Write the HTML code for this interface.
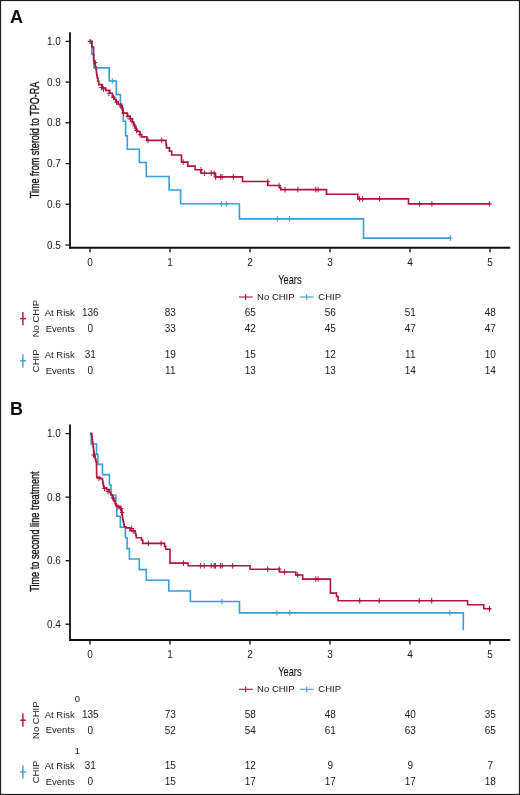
<!DOCTYPE html>
<html><head><meta charset="utf-8"><style>
html,body{margin:0;padding:0;background:#fff;}
svg{display:block;font-family:"Liberation Sans", sans-serif;}
</style></head><body>
<svg width="520" height="795" viewBox="0 0 520 795">
<defs><filter id="soft" x="0" y="0" width="520" height="795" filterUnits="userSpaceOnUse"><feGaussianBlur stdDeviation="0.32"/></filter></defs>
<rect width="520" height="795" fill="#fff"/>
<g filter="url(#soft)">
<text x="10" y="22.8" font-size="18" font-weight="bold" fill="#111">A</text>
<line x1="70" y1="32.2" x2="70" y2="248.7" stroke="#111" stroke-width="1.8"/>
<line x1="69.1" y1="247.7" x2="510.2" y2="247.7" stroke="#111" stroke-width="2"/>
<line x1="65.5" y1="41.4" x2="70" y2="41.4" stroke="#111" stroke-width="1.3"/>
<text x="60.9" y="45.0" font-size="10" text-anchor="end" fill="#1a1a1a">1.0</text>
<line x1="65.5" y1="82.1" x2="70" y2="82.1" stroke="#111" stroke-width="1.3"/>
<text x="60.9" y="85.7" font-size="10" text-anchor="end" fill="#1a1a1a">0.9</text>
<line x1="65.5" y1="122.8" x2="70" y2="122.8" stroke="#111" stroke-width="1.3"/>
<text x="60.9" y="126.4" font-size="10" text-anchor="end" fill="#1a1a1a">0.8</text>
<line x1="65.5" y1="163.6" x2="70" y2="163.6" stroke="#111" stroke-width="1.3"/>
<text x="60.9" y="167.2" font-size="10" text-anchor="end" fill="#1a1a1a">0.7</text>
<line x1="65.5" y1="204.3" x2="70" y2="204.3" stroke="#111" stroke-width="1.3"/>
<text x="60.9" y="207.9" font-size="10" text-anchor="end" fill="#1a1a1a">0.6</text>
<line x1="65.5" y1="245.0" x2="70" y2="245.0" stroke="#111" stroke-width="1.3"/>
<text x="60.9" y="248.6" font-size="10" text-anchor="end" fill="#1a1a1a">0.5</text>
<line x1="90.0" y1="248.5" x2="90.0" y2="252.3" stroke="#111" stroke-width="1.3"/>
<text x="90.0" y="265.8" font-size="10" text-anchor="middle" fill="#1a1a1a">0</text>
<line x1="170.0" y1="248.5" x2="170.0" y2="252.3" stroke="#111" stroke-width="1.3"/>
<text x="170.0" y="265.8" font-size="10" text-anchor="middle" fill="#1a1a1a">1</text>
<line x1="250.0" y1="248.5" x2="250.0" y2="252.3" stroke="#111" stroke-width="1.3"/>
<text x="250.0" y="265.8" font-size="10" text-anchor="middle" fill="#1a1a1a">2</text>
<line x1="330.0" y1="248.5" x2="330.0" y2="252.3" stroke="#111" stroke-width="1.3"/>
<text x="330.0" y="265.8" font-size="10" text-anchor="middle" fill="#1a1a1a">3</text>
<line x1="410.0" y1="248.5" x2="410.0" y2="252.3" stroke="#111" stroke-width="1.3"/>
<text x="410.0" y="265.8" font-size="10" text-anchor="middle" fill="#1a1a1a">4</text>
<line x1="490.0" y1="248.5" x2="490.0" y2="252.3" stroke="#111" stroke-width="1.3"/>
<text x="490.0" y="265.8" font-size="10" text-anchor="middle" fill="#1a1a1a">5</text>
<text transform="translate(38.8 139.9) rotate(-90)" font-size="13" text-anchor="middle" textLength="116.5" lengthAdjust="spacingAndGlyphs" fill="#111" stroke="#111" stroke-width="0.35">Time from steroid to TPO-RA</text>
<text x="278.3" y="283.8" font-size="13" textLength="23.2" lengthAdjust="spacingAndGlyphs" fill="#111" stroke="#111" stroke-width="0.12">Years</text>
<g stroke-width="1.1"><line x1="239" y1="297.0" x2="252.9" y2="297.0" stroke="#b0123b"/><line x1="245.6" y1="294.1" x2="245.6" y2="299.9" stroke="#b0123b"/>
<line x1="300.1" y1="297.0" x2="313.6" y2="297.0" stroke="#379fd8"/><line x1="306.7" y1="294.1" x2="306.7" y2="299.9" stroke="#379fd8"/></g>
<text x="257.1" y="300.1" font-size="9.5" fill="#1a1a1a">No CHIP</text>
<text x="318.3" y="300.1" font-size="9.5" fill="#1a1a1a">CHIP</text>
<text x="10" y="414.8" font-size="18" font-weight="bold" fill="#111">B</text>
<line x1="70" y1="424.5" x2="70" y2="641.0" stroke="#111" stroke-width="1.8"/>
<line x1="69.1" y1="640.0" x2="510.2" y2="640.0" stroke="#111" stroke-width="2"/>
<line x1="65.5" y1="433.6" x2="70" y2="433.6" stroke="#111" stroke-width="1.3"/>
<text x="60.9" y="437.2" font-size="10" text-anchor="end" fill="#1a1a1a">1.0</text>
<line x1="65.5" y1="497.1" x2="70" y2="497.1" stroke="#111" stroke-width="1.3"/>
<text x="60.9" y="500.7" font-size="10" text-anchor="end" fill="#1a1a1a">0.8</text>
<line x1="65.5" y1="560.7" x2="70" y2="560.7" stroke="#111" stroke-width="1.3"/>
<text x="60.9" y="564.3" font-size="10" text-anchor="end" fill="#1a1a1a">0.6</text>
<line x1="65.5" y1="624.2" x2="70" y2="624.2" stroke="#111" stroke-width="1.3"/>
<text x="60.9" y="627.8" font-size="10" text-anchor="end" fill="#1a1a1a">0.4</text>
<line x1="90.0" y1="640.8" x2="90.0" y2="644.6" stroke="#111" stroke-width="1.3"/>
<text x="90.0" y="658.1" font-size="10" text-anchor="middle" fill="#1a1a1a">0</text>
<line x1="170.0" y1="640.8" x2="170.0" y2="644.6" stroke="#111" stroke-width="1.3"/>
<text x="170.0" y="658.1" font-size="10" text-anchor="middle" fill="#1a1a1a">1</text>
<line x1="250.0" y1="640.8" x2="250.0" y2="644.6" stroke="#111" stroke-width="1.3"/>
<text x="250.0" y="658.1" font-size="10" text-anchor="middle" fill="#1a1a1a">2</text>
<line x1="330.0" y1="640.8" x2="330.0" y2="644.6" stroke="#111" stroke-width="1.3"/>
<text x="330.0" y="658.1" font-size="10" text-anchor="middle" fill="#1a1a1a">3</text>
<line x1="410.0" y1="640.8" x2="410.0" y2="644.6" stroke="#111" stroke-width="1.3"/>
<text x="410.0" y="658.1" font-size="10" text-anchor="middle" fill="#1a1a1a">4</text>
<line x1="490.0" y1="640.8" x2="490.0" y2="644.6" stroke="#111" stroke-width="1.3"/>
<text x="490.0" y="658.1" font-size="10" text-anchor="middle" fill="#1a1a1a">5</text>
<text transform="translate(38.8 531.6) rotate(-90)" font-size="13" text-anchor="middle" textLength="120.5" lengthAdjust="spacingAndGlyphs" fill="#111" stroke="#111" stroke-width="0.35">Time to second line treatment</text>
<text x="278.3" y="676.1" font-size="13" textLength="23.2" lengthAdjust="spacingAndGlyphs" fill="#111" stroke="#111" stroke-width="0.12">Years</text>
<g stroke-width="1.1"><line x1="239" y1="689.3" x2="252.9" y2="689.3" stroke="#b0123b"/><line x1="245.6" y1="686.4" x2="245.6" y2="692.2" stroke="#b0123b"/>
<line x1="300.1" y1="689.3" x2="313.6" y2="689.3" stroke="#379fd8"/><line x1="306.7" y1="686.4" x2="306.7" y2="692.2" stroke="#379fd8"/></g>
<text x="257.1" y="692.4" font-size="9.5" fill="#1a1a1a">No CHIP</text>
<text x="318.3" y="692.4" font-size="9.5" fill="#1a1a1a">CHIP</text>
<path d="M90.0 41.4 H91.8 V54.5 H94 V67.9 H109.2 V81 H116.3 V94.6 H120.4 V107.7 H123.3 V121.2 H125.6 V135.8 H127.3 V149.3 H139.4 V162.5 H146.3 V176.5 H169.1 V190 H180.6 V203.8 H239.4 V218.9 H363.5 V238.1 H450.4" fill="none" stroke="#379fd8" stroke-width="1.6" stroke-linejoin="miter"/>
<g stroke="#379fd8" stroke-width="1.0"><line x1="112.3" y1="78.2" x2="112.3" y2="83.8"/><line x1="110.1" y1="81.0" x2="114.5" y2="81.0"/><line x1="221.4" y1="201.0" x2="221.4" y2="206.6"/><line x1="219.2" y1="203.8" x2="223.6" y2="203.8"/><line x1="226.3" y1="201.0" x2="226.3" y2="206.6"/><line x1="224.1" y1="203.8" x2="228.5" y2="203.8"/><line x1="277.3" y1="216.1" x2="277.3" y2="221.7"/><line x1="275.1" y1="218.9" x2="279.5" y2="218.9"/><line x1="289.6" y1="216.1" x2="289.6" y2="221.7"/><line x1="287.4" y1="218.9" x2="291.8" y2="218.9"/><line x1="450.4" y1="235.3" x2="450.4" y2="240.9"/><line x1="448.2" y1="238.1" x2="452.6" y2="238.1"/></g>
<path d="M90.0 41.4 L91.9 41.4 L91.9 47.0 L93.6 47.0 L93.6 61.0 L94.4 61.0 L94.4 63.9 L95.2 63.9 L95.2 66.7 L96.0 66.7 L96.0 69.6 L96.4 69.6 L96.4 72.3 L96.7 72.3 L96.7 75.0 L97.1 75.0 L97.1 77.7 L97.9 77.7 L97.9 81.2 L98.8 81.2 L98.8 84.6 L102.3 84.6 L102.3 88.0 L105.8 88.0 L105.8 90.4 L109.8 90.4 L109.8 93.2 L112.3 93.2 L112.3 96.9 L114.0 96.9 L114.0 99.2 L115.8 99.2 L115.8 101.5 L118.1 101.5 L118.1 104.4 L121.5 104.4 L121.5 106.1 L122.1 106.1 L122.1 109.6 L122.7 109.6 L122.7 113.1 L125.2 113.1 L127.3 113.1 L127.3 116.0 L130.2 116.0 L130.2 118.8 L132.5 118.8 L132.5 122.3 L133.7 122.3 L133.7 124.6 L134.8 124.6 L134.8 126.9 L135.9 126.9 L135.9 129.2 L137.1 129.2 L137.1 131.5 L140.0 131.5 L140.0 134.6 L141.7 134.6 L141.7 136.9 L146.3 136.9 L146.9 136.9 L146.9 140.4 L164.8 140.4 L166.0 140.4 L166.0 144.4 L166.5 144.4 L166.5 147.9 L169.4 147.9 L169.4 151.3 L171.7 151.3 L171.7 155.0 L181.5 155.0 L181.5 162.1 L187.9 162.1 L187.9 166.1 L195.1 166.1 L195.1 169.8 L201.0 169.8 L201.0 173.2 L215.4 173.2 L215.4 176.9 L242.5 176.9 L242.5 181.5 L267.8 181.5 L267.8 185.5 L279.6 185.5 L279.6 187.6 L280.8 187.6 L280.8 189.6 L326.5 189.6 L326.5 194.2 L357.8 194.2 L357.8 198.9 L408.5 198.9 L408.5 203.9 L489.8 203.9" fill="none" stroke="#b0123b" stroke-width="1.6" stroke-linejoin="miter"/>
<g stroke="#b0123b" stroke-width="1.0"><line x1="95.3" y1="59.9" x2="95.3" y2="65.5"/><line x1="93.1" y1="62.7" x2="97.5" y2="62.7"/><line x1="101.5" y1="84.7" x2="101.5" y2="90.3"/><line x1="99.3" y1="87.5" x2="103.7" y2="87.5"/><line x1="103.5" y1="86.2" x2="103.5" y2="91.8"/><line x1="101.3" y1="89.0" x2="105.7" y2="89.0"/><line x1="109.0" y1="90.5" x2="109.0" y2="96.1"/><line x1="106.8" y1="93.3" x2="111.2" y2="93.3"/><line x1="113.5" y1="94.7" x2="113.5" y2="100.3"/><line x1="111.3" y1="97.5" x2="115.7" y2="97.5"/><line x1="116.5" y1="99.2" x2="116.5" y2="104.8"/><line x1="114.3" y1="102.0" x2="118.7" y2="102.0"/><line x1="121.0" y1="103.2" x2="121.0" y2="108.8"/><line x1="118.8" y1="106.0" x2="123.2" y2="106.0"/><line x1="123.5" y1="110.3" x2="123.5" y2="115.9"/><line x1="121.3" y1="113.1" x2="125.7" y2="113.1"/><line x1="128.0" y1="113.7" x2="128.0" y2="119.3"/><line x1="125.8" y1="116.5" x2="130.2" y2="116.5"/><line x1="130.5" y1="116.2" x2="130.5" y2="121.8"/><line x1="128.3" y1="119.0" x2="132.7" y2="119.0"/><line x1="132.0" y1="118.7" x2="132.0" y2="124.3"/><line x1="129.8" y1="121.5" x2="134.2" y2="121.5"/><line x1="134.5" y1="123.2" x2="134.5" y2="128.8"/><line x1="132.3" y1="126.0" x2="136.7" y2="126.0"/><line x1="136.5" y1="127.7" x2="136.5" y2="133.3"/><line x1="134.3" y1="130.5" x2="138.7" y2="130.5"/><line x1="140.0" y1="131.8" x2="140.0" y2="137.4"/><line x1="137.8" y1="134.6" x2="142.2" y2="134.6"/><line x1="148.1" y1="137.6" x2="148.1" y2="143.2"/><line x1="145.9" y1="140.4" x2="150.3" y2="140.4"/><line x1="161.7" y1="137.6" x2="161.7" y2="143.2"/><line x1="159.5" y1="140.4" x2="163.9" y2="140.4"/><line x1="183.2" y1="159.3" x2="183.2" y2="164.9"/><line x1="181.0" y1="162.1" x2="185.4" y2="162.1"/><line x1="201.0" y1="167.0" x2="201.0" y2="172.6"/><line x1="198.8" y1="169.8" x2="203.2" y2="169.8"/><line x1="204.4" y1="170.4" x2="204.4" y2="176.0"/><line x1="202.2" y1="173.2" x2="206.6" y2="173.2"/><line x1="211.3" y1="170.4" x2="211.3" y2="176.0"/><line x1="209.1" y1="173.2" x2="213.5" y2="173.2"/><line x1="214.2" y1="170.4" x2="214.2" y2="176.0"/><line x1="212.0" y1="173.2" x2="216.4" y2="173.2"/><line x1="215.6" y1="174.1" x2="215.6" y2="179.7"/><line x1="213.4" y1="176.9" x2="217.8" y2="176.9"/><line x1="220.6" y1="174.1" x2="220.6" y2="179.7"/><line x1="218.4" y1="176.9" x2="222.8" y2="176.9"/><line x1="222.1" y1="174.1" x2="222.1" y2="179.7"/><line x1="219.9" y1="176.9" x2="224.3" y2="176.9"/><line x1="233.3" y1="174.1" x2="233.3" y2="179.7"/><line x1="231.1" y1="176.9" x2="235.5" y2="176.9"/><line x1="267.8" y1="178.7" x2="267.8" y2="184.3"/><line x1="265.6" y1="181.5" x2="270.0" y2="181.5"/><line x1="279.0" y1="182.7" x2="279.0" y2="188.3"/><line x1="276.8" y1="185.5" x2="281.2" y2="185.5"/><line x1="285.0" y1="186.8" x2="285.0" y2="192.4"/><line x1="282.8" y1="189.6" x2="287.2" y2="189.6"/><line x1="297.8" y1="186.8" x2="297.8" y2="192.4"/><line x1="295.6" y1="189.6" x2="300.0" y2="189.6"/><line x1="315.8" y1="186.8" x2="315.8" y2="192.4"/><line x1="313.6" y1="189.6" x2="318.0" y2="189.6"/><line x1="318.1" y1="186.8" x2="318.1" y2="192.4"/><line x1="315.9" y1="189.6" x2="320.3" y2="189.6"/><line x1="359.6" y1="196.1" x2="359.6" y2="201.7"/><line x1="357.4" y1="198.9" x2="361.8" y2="198.9"/><line x1="362.7" y1="196.1" x2="362.7" y2="201.7"/><line x1="360.5" y1="198.9" x2="364.9" y2="198.9"/><line x1="379.6" y1="196.1" x2="379.6" y2="201.7"/><line x1="377.4" y1="198.9" x2="381.8" y2="198.9"/><line x1="419.6" y1="201.1" x2="419.6" y2="206.7"/><line x1="417.4" y1="203.9" x2="421.8" y2="203.9"/><line x1="431.9" y1="201.1" x2="431.9" y2="206.7"/><line x1="429.7" y1="203.9" x2="434.1" y2="203.9"/><line x1="489.6" y1="201.1" x2="489.6" y2="206.7"/><line x1="487.4" y1="203.9" x2="491.8" y2="203.9"/></g>
<path d="M90.0 433.6 H91.2 V444 H96.5 V454.4 H97.9 V464.4 H102.5 V474.6 H109.4 V485 H111 V495.2 H115.8 V505.7 H116.8 V516.2 H120.3 V527.3 H125.4 V537.7 H127.1 V548.6 H129.4 V559 H139.3 V569.6 H146.3 V580.3 H168.8 V591 H190.4 V601.5 H239.5 V612.9 H463.3 V630.3" fill="none" stroke="#379fd8" stroke-width="1.6" stroke-linejoin="miter"/>
<g stroke="#379fd8" stroke-width="1.0"><line x1="221.9" y1="598.7" x2="221.9" y2="604.3"/><line x1="219.7" y1="601.5" x2="224.1" y2="601.5"/><line x1="276.9" y1="610.1" x2="276.9" y2="615.7"/><line x1="274.7" y1="612.9" x2="279.1" y2="612.9"/><line x1="289.7" y1="610.1" x2="289.7" y2="615.7"/><line x1="287.5" y1="612.9" x2="291.9" y2="612.9"/><line x1="449.8" y1="610.1" x2="449.8" y2="615.7"/><line x1="447.6" y1="612.9" x2="452.0" y2="612.9"/></g>
<path d="M90.0 433.6 L91.5 433.6 L91.8 433.6 L91.8 435.8 L92.0 435.8 L92.0 438.0 L92.3 438.0 L92.3 440.2 L92.5 440.2 L92.5 442.4 L92.8 442.4 L92.8 444.6 L93.1 444.6 L93.1 446.9 L93.4 446.9 L93.4 449.2 L93.7 449.2 L93.7 451.5 L94.0 451.5 L94.0 453.8 L94.6 453.8 L94.6 456.4 L95.2 456.4 L95.2 459.0 L95.9 459.0 L95.9 461.6 L96.5 461.6 L96.5 464.2 L96.5 464.2 L96.5 466.4 L96.6 466.4 L96.6 468.6 L96.6 468.6 L96.6 470.9 L96.6 470.9 L96.6 473.1 L96.7 473.1 L96.7 475.3 L96.7 475.3 L96.7 477.5 L100.2 477.5 L100.2 478.6 L102.5 478.6 L102.5 481.0 L102.9 481.0 L102.9 483.3 L103.3 483.3 L103.3 485.6 L103.7 485.6 L103.7 487.9 L106.5 487.9 L106.5 489.6 L109.4 489.6 L109.4 492.5 L110.8 492.5 L110.8 494.8 L112.3 494.8 L112.3 497.1 L113.2 497.1 L113.2 499.1 L114.0 499.1 L114.0 501.1 L115.2 501.1 L115.2 503.7 L116.3 503.7 L116.3 506.3 L119.8 506.3 L119.8 507.5 L120.7 507.5 L120.7 509.8 L121.5 509.8 L121.5 512.1 L121.9 512.1 L121.9 514.6 L122.3 514.6 L122.3 517.1 L122.7 517.1 L122.7 519.6 L123.2 519.6 L123.2 522.0 L123.7 522.0 L123.7 524.3 L124.2 524.3 L124.2 526.7 L126.0 526.7 L126.0 527.9 L129.4 527.9 L130.0 527.9 L130.0 530.8 L133.5 530.8 L135.2 530.8 L135.2 533.1 L135.8 533.1 L135.8 535.4 L136.3 535.4 L136.3 537.7 L139.2 537.7 L141.5 537.7 L141.5 540.0 L142.7 540.0 L142.7 543.4 L162.3 543.4 L164.6 543.4 L164.6 546.3 L165.7 546.3 L165.7 549.2 L170.0 549.2 L170.0 563.1 L188.1 563.1 L188.1 565.8 L250.0 565.8 L250.0 569.2 L279.5 569.2 L279.5 572.0 L295.8 572.0 L295.8 575.0 L302.7 575.0 L302.7 579.1 L330.4 579.1 L330.4 593.1 L336.5 593.1 L336.5 596.5 L338.1 596.5 L338.1 600.7 L467.6 600.7 L467.6 604.8 L483.8 604.8 L483.8 608.8 L491.0 608.8" fill="none" stroke="#b0123b" stroke-width="1.6" stroke-linejoin="miter"/>
<g stroke="#b0123b" stroke-width="1.0"><line x1="93.5" y1="452.2" x2="93.5" y2="457.8"/><line x1="91.3" y1="455.0" x2="95.7" y2="455.0"/><line x1="99.0" y1="475.5" x2="99.0" y2="481.1"/><line x1="96.8" y1="478.3" x2="101.2" y2="478.3"/><line x1="104.5" y1="485.7" x2="104.5" y2="491.3"/><line x1="102.3" y1="488.5" x2="106.7" y2="488.5"/><line x1="108.0" y1="488.7" x2="108.0" y2="494.3"/><line x1="105.8" y1="491.5" x2="110.2" y2="491.5"/><line x1="113.0" y1="495.2" x2="113.0" y2="500.8"/><line x1="110.8" y1="498.0" x2="115.2" y2="498.0"/><line x1="118.0" y1="504.2" x2="118.0" y2="509.8"/><line x1="115.8" y1="507.0" x2="120.2" y2="507.0"/><line x1="121.0" y1="505.7" x2="121.0" y2="511.3"/><line x1="118.8" y1="508.5" x2="123.2" y2="508.5"/><line x1="122.2" y1="509.7" x2="122.2" y2="515.3"/><line x1="120.0" y1="512.5" x2="124.4" y2="512.5"/><line x1="131.7" y1="525.7" x2="131.7" y2="531.3"/><line x1="129.5" y1="528.5" x2="133.9" y2="528.5"/><line x1="133.2" y1="528.2" x2="133.2" y2="533.8"/><line x1="131.0" y1="531.0" x2="135.4" y2="531.0"/><line x1="148.4" y1="540.6" x2="148.4" y2="546.2"/><line x1="146.2" y1="543.4" x2="150.6" y2="543.4"/><line x1="161.1" y1="540.6" x2="161.1" y2="546.2"/><line x1="158.9" y1="543.4" x2="163.3" y2="543.4"/><line x1="183.5" y1="560.3" x2="183.5" y2="565.9"/><line x1="181.3" y1="563.1" x2="185.7" y2="563.1"/><line x1="200.7" y1="563.0" x2="200.7" y2="568.6"/><line x1="198.5" y1="565.8" x2="202.9" y2="565.8"/><line x1="204.2" y1="563.0" x2="204.2" y2="568.6"/><line x1="202.0" y1="565.8" x2="206.4" y2="565.8"/><line x1="211.2" y1="563.0" x2="211.2" y2="568.6"/><line x1="209.0" y1="565.8" x2="213.4" y2="565.8"/><line x1="214.2" y1="563.0" x2="214.2" y2="568.6"/><line x1="212.0" y1="565.8" x2="216.4" y2="565.8"/><line x1="215.5" y1="563.0" x2="215.5" y2="568.6"/><line x1="213.3" y1="565.8" x2="217.7" y2="565.8"/><line x1="220.4" y1="563.0" x2="220.4" y2="568.6"/><line x1="218.2" y1="565.8" x2="222.6" y2="565.8"/><line x1="222.2" y1="563.0" x2="222.2" y2="568.6"/><line x1="220.0" y1="565.8" x2="224.4" y2="565.8"/><line x1="232.7" y1="563.0" x2="232.7" y2="568.6"/><line x1="230.5" y1="565.8" x2="234.9" y2="565.8"/><line x1="267.7" y1="566.4" x2="267.7" y2="572.0"/><line x1="265.5" y1="569.2" x2="269.9" y2="569.2"/><line x1="279.2" y1="566.4" x2="279.2" y2="572.0"/><line x1="277.0" y1="569.2" x2="281.4" y2="569.2"/><line x1="284.6" y1="569.2" x2="284.6" y2="574.8"/><line x1="282.4" y1="572.0" x2="286.8" y2="572.0"/><line x1="297.7" y1="572.2" x2="297.7" y2="577.8"/><line x1="295.5" y1="575.0" x2="299.9" y2="575.0"/><line x1="315.8" y1="576.3" x2="315.8" y2="581.9"/><line x1="313.6" y1="579.1" x2="318.0" y2="579.1"/><line x1="318.1" y1="576.3" x2="318.1" y2="581.9"/><line x1="315.9" y1="579.1" x2="320.3" y2="579.1"/><line x1="359.7" y1="597.9" x2="359.7" y2="603.5"/><line x1="357.5" y1="600.7" x2="361.9" y2="600.7"/><line x1="379.2" y1="597.9" x2="379.2" y2="603.5"/><line x1="377.0" y1="600.7" x2="381.4" y2="600.7"/><line x1="419.2" y1="597.9" x2="419.2" y2="603.5"/><line x1="417.0" y1="600.7" x2="421.4" y2="600.7"/><line x1="431.7" y1="597.9" x2="431.7" y2="603.5"/><line x1="429.5" y1="600.7" x2="433.9" y2="600.7"/><line x1="489.5" y1="606.0" x2="489.5" y2="611.6"/><line x1="487.3" y1="608.8" x2="491.7" y2="608.8"/></g>
<g stroke="#74305e" stroke-width="1.2"><line x1="87.8" y1="41.4" x2="92.6" y2="41.4"/><line x1="90.1" y1="38.9" x2="90.1" y2="43.9"/></g>
<text x="74.8" y="315.7" font-size="9.5" text-anchor="end" fill="#1a1a1a">At Risk</text>
<text x="90.3" y="315.9" font-size="10" text-anchor="middle" fill="#1a1a1a">136</text>
<text x="170.3" y="315.9" font-size="10" text-anchor="middle" fill="#1a1a1a">83</text>
<text x="250.3" y="315.9" font-size="10" text-anchor="middle" fill="#1a1a1a">65</text>
<text x="330.3" y="315.9" font-size="10" text-anchor="middle" fill="#1a1a1a">56</text>
<text x="410.3" y="315.9" font-size="10" text-anchor="middle" fill="#1a1a1a">51</text>
<text x="490.3" y="315.9" font-size="10" text-anchor="middle" fill="#1a1a1a">48</text>
<text x="74.8" y="331.5" font-size="9.5" text-anchor="end" fill="#1a1a1a">Events</text>
<text x="90.3" y="331.7" font-size="10" text-anchor="middle" fill="#1a1a1a">0</text>
<text x="170.3" y="331.7" font-size="10" text-anchor="middle" fill="#1a1a1a">33</text>
<text x="250.3" y="331.7" font-size="10" text-anchor="middle" fill="#1a1a1a">42</text>
<text x="330.3" y="331.7" font-size="10" text-anchor="middle" fill="#1a1a1a">45</text>
<text x="410.3" y="331.7" font-size="10" text-anchor="middle" fill="#1a1a1a">47</text>
<text x="490.3" y="331.7" font-size="10" text-anchor="middle" fill="#1a1a1a">47</text>
<text x="74.8" y="357.9" font-size="9.5" text-anchor="end" fill="#1a1a1a">At Risk</text>
<text x="90.3" y="358.1" font-size="10" text-anchor="middle" fill="#1a1a1a">31</text>
<text x="170.3" y="358.1" font-size="10" text-anchor="middle" fill="#1a1a1a">19</text>
<text x="250.3" y="358.1" font-size="10" text-anchor="middle" fill="#1a1a1a">15</text>
<text x="330.3" y="358.1" font-size="10" text-anchor="middle" fill="#1a1a1a">12</text>
<text x="410.3" y="358.1" font-size="10" text-anchor="middle" fill="#1a1a1a">11</text>
<text x="490.3" y="358.1" font-size="10" text-anchor="middle" fill="#1a1a1a">10</text>
<text x="74.8" y="373.6" font-size="9.5" text-anchor="end" fill="#1a1a1a">Events</text>
<text x="90.3" y="373.8" font-size="10" text-anchor="middle" fill="#1a1a1a">0</text>
<text x="170.3" y="373.8" font-size="10" text-anchor="middle" fill="#1a1a1a">11</text>
<text x="250.3" y="373.8" font-size="10" text-anchor="middle" fill="#1a1a1a">13</text>
<text x="330.3" y="373.8" font-size="10" text-anchor="middle" fill="#1a1a1a">13</text>
<text x="410.3" y="373.8" font-size="10" text-anchor="middle" fill="#1a1a1a">14</text>
<text x="490.3" y="373.8" font-size="10" text-anchor="middle" fill="#1a1a1a">14</text>
<text transform="translate(38.8 318.6) rotate(-90)" font-size="9.5" text-anchor="middle" fill="#1a1a1a">No CHIP</text>
<g stroke="#b0123b" stroke-width="1.4"><line x1="22.9" y1="312.0" x2="22.9" y2="325.2"/><line x1="20.2" y1="318.6" x2="26" y2="318.6"/></g>
<text transform="translate(38.8 360.8) rotate(-90)" font-size="9.5" text-anchor="middle" fill="#1a1a1a">CHIP</text>
<g stroke="#379fd8" stroke-width="1.4"><line x1="22.9" y1="354.2" x2="22.9" y2="367.4"/><line x1="20.2" y1="360.8" x2="26" y2="360.8"/></g>
<text x="74.8" y="717.7" font-size="9.5" text-anchor="end" fill="#1a1a1a">At Risk</text>
<text x="90.3" y="717.9" font-size="10" text-anchor="middle" fill="#1a1a1a">135</text>
<text x="170.3" y="717.9" font-size="10" text-anchor="middle" fill="#1a1a1a">73</text>
<text x="250.3" y="717.9" font-size="10" text-anchor="middle" fill="#1a1a1a">58</text>
<text x="330.3" y="717.9" font-size="10" text-anchor="middle" fill="#1a1a1a">48</text>
<text x="410.3" y="717.9" font-size="10" text-anchor="middle" fill="#1a1a1a">40</text>
<text x="490.3" y="717.9" font-size="10" text-anchor="middle" fill="#1a1a1a">35</text>
<text x="74.8" y="733.3" font-size="9.5" text-anchor="end" fill="#1a1a1a">Events</text>
<text x="90.3" y="733.5" font-size="10" text-anchor="middle" fill="#1a1a1a">0</text>
<text x="170.3" y="733.5" font-size="10" text-anchor="middle" fill="#1a1a1a">52</text>
<text x="250.3" y="733.5" font-size="10" text-anchor="middle" fill="#1a1a1a">54</text>
<text x="330.3" y="733.5" font-size="10" text-anchor="middle" fill="#1a1a1a">61</text>
<text x="410.3" y="733.5" font-size="10" text-anchor="middle" fill="#1a1a1a">63</text>
<text x="490.3" y="733.5" font-size="10" text-anchor="middle" fill="#1a1a1a">65</text>
<text x="74.8" y="769.0" font-size="9.5" text-anchor="end" fill="#1a1a1a">At Risk</text>
<text x="90.3" y="769.2" font-size="10" text-anchor="middle" fill="#1a1a1a">31</text>
<text x="170.3" y="769.2" font-size="10" text-anchor="middle" fill="#1a1a1a">15</text>
<text x="250.3" y="769.2" font-size="10" text-anchor="middle" fill="#1a1a1a">12</text>
<text x="330.3" y="769.2" font-size="10" text-anchor="middle" fill="#1a1a1a">9</text>
<text x="410.3" y="769.2" font-size="10" text-anchor="middle" fill="#1a1a1a">9</text>
<text x="490.3" y="769.2" font-size="10" text-anchor="middle" fill="#1a1a1a">7</text>
<text x="74.8" y="784.6" font-size="9.5" text-anchor="end" fill="#1a1a1a">Events</text>
<text x="90.3" y="784.8" font-size="10" text-anchor="middle" fill="#1a1a1a">0</text>
<text x="170.3" y="784.8" font-size="10" text-anchor="middle" fill="#1a1a1a">15</text>
<text x="250.3" y="784.8" font-size="10" text-anchor="middle" fill="#1a1a1a">17</text>
<text x="330.3" y="784.8" font-size="10" text-anchor="middle" fill="#1a1a1a">17</text>
<text x="410.3" y="784.8" font-size="10" text-anchor="middle" fill="#1a1a1a">17</text>
<text x="490.3" y="784.8" font-size="10" text-anchor="middle" fill="#1a1a1a">18</text>
<text transform="translate(38.8 720.2) rotate(-90)" font-size="9.5" text-anchor="middle" fill="#1a1a1a">No CHIP</text>
<g stroke="#b0123b" stroke-width="1.4"><line x1="22.9" y1="713.6" x2="22.9" y2="726.8"/><line x1="20.2" y1="720.2" x2="26" y2="720.2"/></g>
<text transform="translate(38.8 771.9) rotate(-90)" font-size="9.5" text-anchor="middle" fill="#1a1a1a">CHIP</text>
<g stroke="#379fd8" stroke-width="1.4"><line x1="22.9" y1="765.3" x2="22.9" y2="778.5"/><line x1="20.2" y1="771.9" x2="26" y2="771.9"/></g>
<text x="77.5" y="701.8" font-size="9.5" text-anchor="middle" fill="#1a1a1a">0</text>
<text x="77.5" y="754.4" font-size="9.5" text-anchor="middle" fill="#1a1a1a">1</text>
</g>
<rect x="0.5" y="0.5" width="519" height="794" fill="none" stroke="#1a1a1a" stroke-width="1.2"/>
</svg>
</body></html>
